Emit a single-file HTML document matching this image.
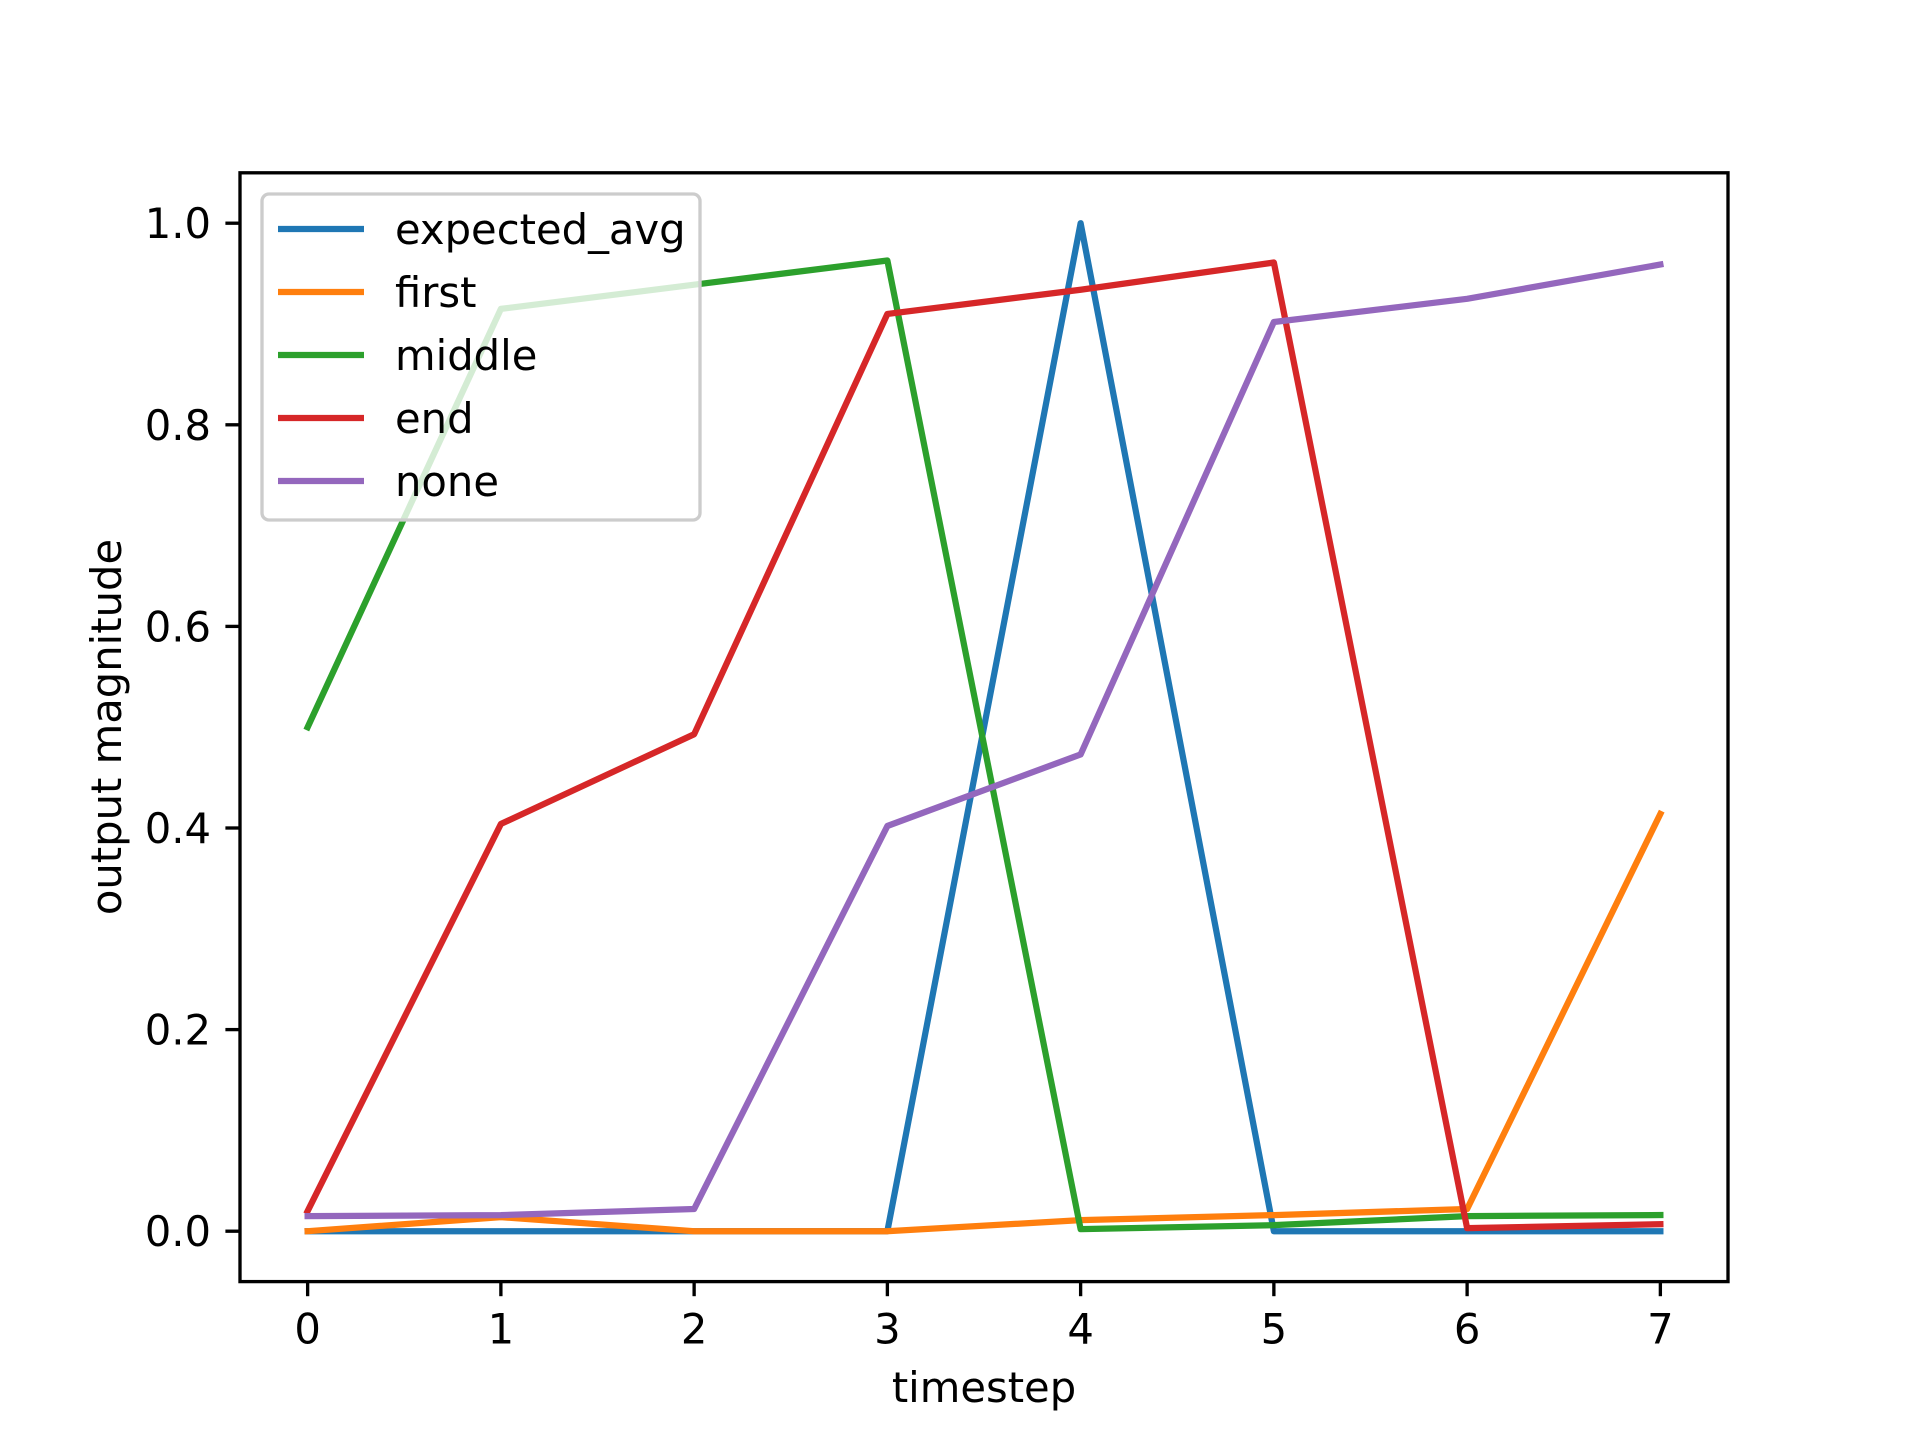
<!DOCTYPE html>
<html><head><meta charset="utf-8"><style>
html,body{margin:0;padding:0;background:#fff;}
svg{display:block;font-family:"DejaVu Sans","Liberation Sans",sans-serif;}
</style></head><body>
<svg id="chart" width="1920" height="1440" viewBox="0 0 1920 1440">
<rect x="0" y="0" width="1920" height="1440" fill="#fff"/>
<g id="plot"></g>
<g id="axes"></g>
<g id="legend"></g>
</svg>
<script>
const categories = [0,1,2,3,4,5,6,7];
const seriesNames = ["expected_avg","first","middle","end","none"];
const expectedAvg = [0,0,0,0,1,0,0,0];
const first = [0,0.014,0,0,0.011,0.016,0.022,0.414];
const middle = [0.5,0.915,0.939,0.963,0.002,0.006,0.015,0.016];
const end = [0.02,0.404,0.493,0.91,0.934,0.961,0.003,0.007];
const none = [0.015,0.016,0.022,0.402,0.473,0.902,0.925,0.959];
const xTicks = [0,1,2,3,4,5,6,7];
const yTicks = [0,0.2,0.4,0.6,0.8,1.0];
const yTickLabels = ["0.0","0.2","0.4","0.6","0.8","1.0"];

const NS="http://www.w3.org/2000/svg";
const L=240,R=1728,T=172.8,B=1281.6;
const xmin=-0.35,xmax=7.35,ymin=-0.05,ymax=1.05;
const xs=v=>L+(v-xmin)/(xmax-xmin)*(R-L);
const ys=v=>B-(v-ymin)/(ymax-ymin)*(B-T);
const colors=["#1f77b4","#ff7f0e","#2ca02c","#d62728","#9467bd"];
const allData=[expectedAvg,first,middle,end,none];
function mk(tag,attrs,parent){const e=document.createElementNS(NS,tag);for(const k in attrs)e.setAttribute(k,attrs[k]);parent.appendChild(e);return e;}
const plot=document.getElementById('plot'),axes=document.getElementById('axes'),leg=document.getElementById('legend');

allData.forEach((d,i)=>{
  const p=mk('polyline',{points:d.map((v,j)=>xs(categories[j])+','+ys(v)).join(' '),fill:'none',stroke:colors[i],'stroke-width':6.25,'stroke-linejoin':'round','stroke-linecap':'square'},plot);
  
  
});

const frame=mk('rect',{x:L,y:T,width:R-L,height:B-T,fill:'none',stroke:'#000','stroke-width':3.33},axes);



xTicks.forEach(t=>{
  const x=xs(t);
  const tk=mk('line',{x1:x,x2:x,y1:B,y2:B+14.6,stroke:'#000','stroke-width':3.33},axes);
  
  
  const tx=mk('text',{x:x,y:B+62,'text-anchor':'middle','font-size':41.7,fill:'#000'},axes);
  tx.textContent=String(t);
  
  
});
yTicks.forEach((t,i)=>{
  const y=ys(t);
  const tk=mk('line',{x1:L-14.6,x2:L,y1:y,y2:y,stroke:'#000','stroke-width':3.33},axes);
  
  
  const tx=mk('text',{x:L-29,y:y+15,'text-anchor':'end','font-size':41.7,fill:'#000'},axes);
  tx.textContent=yTickLabels[i];
  
  
});
const xl=mk('text',{x:(L+R)/2,y:1402,'text-anchor':'middle','font-size':41.7,fill:'#000'},axes);
xl.textContent='timestep';


const yl=mk('text',{x:0,y:0,'text-anchor':'middle','font-size':41.7,fill:'#000',transform:'translate(121,727) rotate(-90)'},axes);
yl.textContent='output magnitude';



const box=mk('rect',{x:262,y:194,width:438,height:326,rx:7,fill:'#fff','fill-opacity':0.8,stroke:'#ccc','stroke-width':3.33},leg);


const ly=[229,292,355,418,481];
seriesNames.forEach((n,i)=>{
  const g=mk('g',{},leg);
  
  
  mk('line',{x1:278,x2:364,y1:ly[i],y2:ly[i],stroke:colors[i],'stroke-width':6.25},g);
  const t=mk('text',{x:395,y:ly[i]+15,'font-size':41.7,fill:'#000'},g);
  t.textContent=n;
});
</script>
</body></html>
